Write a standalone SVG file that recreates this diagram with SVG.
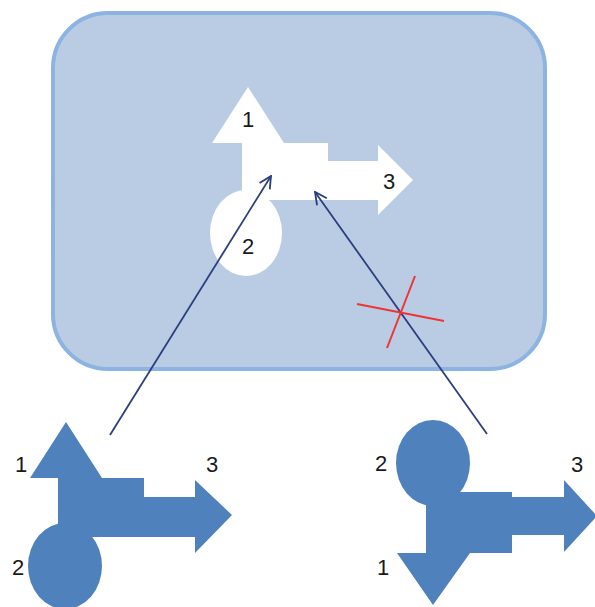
<svg xmlns="http://www.w3.org/2000/svg" width="595" height="607" viewBox="0 0 595 607">
<defs>
<style>
.lbl{font-family:"Liberation Sans",Arial,sans-serif;font-size:22px;fill:#1a1a1a;text-anchor:middle;dominant-baseline:central}
.wh{fill:#ffffff}
.bl{fill:#4f81bd}
.con{stroke:#2b3f7f;stroke-width:1.8;fill:none}
.x{stroke:#ee3535;stroke-width:2;fill:none}
</style>
<marker id="ah" viewBox="0 0 14 14" refX="13" refY="7" markerWidth="14" markerHeight="14" markerUnits="userSpaceOnUse" orient="auto">
<path d="M1,1 L13,7 L1,13" fill="none" stroke="#2b3f7f" stroke-width="1.8"/>
</marker>
</defs>
<rect width="595" height="607" fill="#ffffff"/>
<g id="container">
<rect x="53" y="13" width="492" height="356" rx="55" ry="55" fill="#b9cce4" stroke="#8db3e2" stroke-width="4"/>
</g>
<g id="shape-top">
<polygon class="wh" points="248,87 284,143 328,143 328,161 378,161 378,145 413,180 378,215 378,200 242,200 242,143 212,143"/>
<ellipse class="wh" cx="246" cy="233" rx="36" ry="43"/>
<text class="lbl" x="248" y="119">1</text>
<text class="lbl" x="248" y="246">2</text>
<text class="lbl" x="389" y="181">3</text>
</g>
<g id="shape-left">
<polygon class="bl" points="66,422 102,478 144,478 144,497 195,497 195,480 232,515 195,553 195,537 58,537 58,478 30,478"/>
<ellipse class="bl" cx="65" cy="566" rx="37" ry="43"/>
<text class="lbl" x="21" y="464">1</text>
<text class="lbl" x="18" y="567">2</text>
<text class="lbl" x="212" y="464">3</text>
</g>
<g id="shape-right">
<polygon class="bl" points="433,605 470,553 512,553 512,535 564,535 564,552 597,516 564,480 564,497 512,497 512,492 426,492 426,553 397,553"/>
<ellipse class="bl" cx="433" cy="463" rx="37" ry="43"/>
<text class="lbl" x="381" y="463">2</text>
<text class="lbl" x="383" y="567">1</text>
<text class="lbl" x="577" y="464">3</text>
</g>
<g id="connectors">
<line class="con" x1="110" y1="435" x2="271" y2="176" marker-end="url(#ah)"/>
<line class="con" x1="487" y1="434" x2="315" y2="192" marker-end="url(#ah)"/>
</g>
<g id="cross">
<line class="x" x1="357" y1="304" x2="444" y2="321"/>
<line class="x" x1="415" y1="276" x2="387" y2="348"/>
</g>
</svg>
